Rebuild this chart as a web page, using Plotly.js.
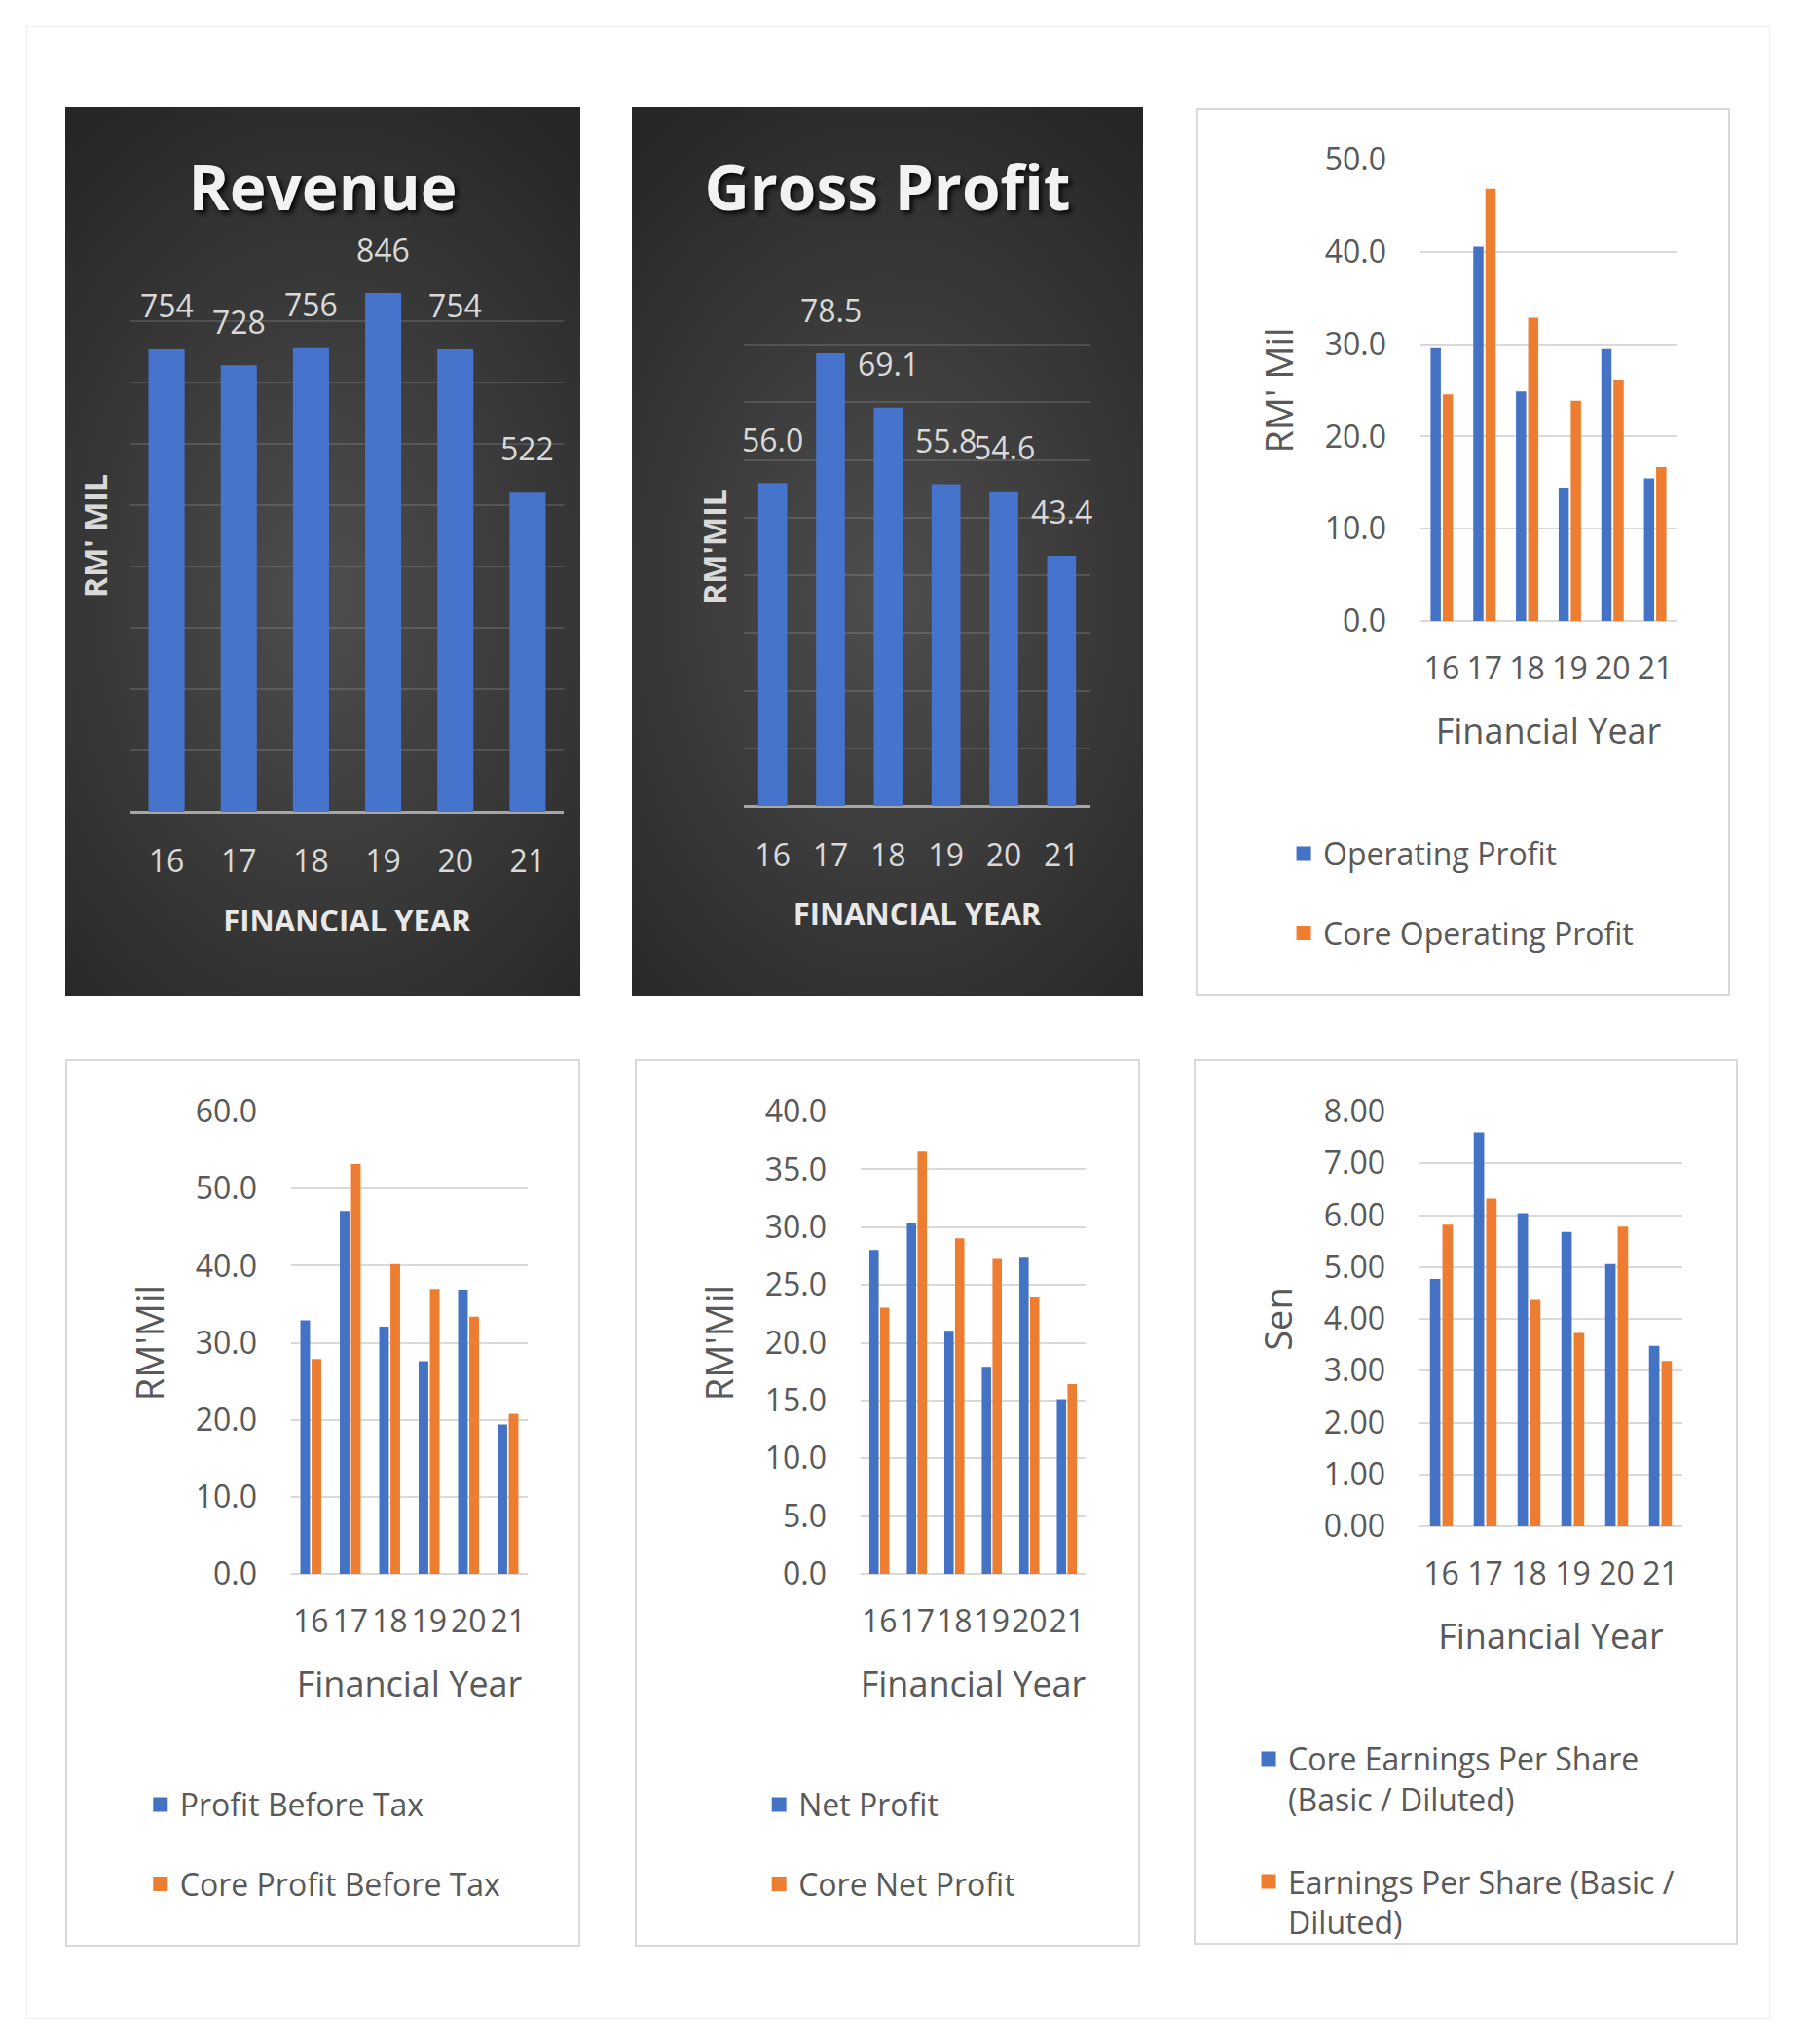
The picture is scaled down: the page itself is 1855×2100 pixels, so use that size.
<!DOCTYPE html>
<html><head><meta charset="utf-8">
<script src="https://cdn.plot.ly/plotly-3.0.1.min.js"></script>
<style>
body{margin:0;background:#fff;width:1855px;height:2100px;position:relative;overflow:hidden;}
.frame{position:absolute;left:27px;top:27px;width:1791px;height:2047px;border:1px solid #eeeeee;box-sizing:border-box;}
.box{position:absolute;box-sizing:border-box;border:2px solid #d9d9d9;background:#fff;}
.dark{position:absolute;background:radial-gradient(ellipse 80% 65% at 50% 55%, #4e4e4e 0%, #3c3c3c 45%, #262626 100%);}
.plot{position:absolute;}
</style></head>
<body>
<div class="frame"></div>
<div class="dark" style="left:67px;top:110px;width:529px;height:913px"></div>
<div class="dark" style="left:649px;top:110px;width:525px;height:913px"></div>
<div class="box" style="left:1228px;top:111px;width:549px;height:912px"></div>
<div class="box" style="left:67px;top:1088px;width:529px;height:912px"></div>
<div class="box" style="left:652px;top:1088px;width:519px;height:912px"></div>
<div class="box" style="left:1226px;top:1088px;width:559px;height:910px"></div>

<div id="rev" class="plot" style="left:67px;top:110px"></div>
<div id="gp" class="plot" style="left:649px;top:110px"></div>
<div id="op" class="plot" style="left:1228px;top:111px"></div>
<div id="pbt" class="plot" style="left:67px;top:1088px"></div>
<div id="np" class="plot" style="left:652px;top:1088px"></div>
<div id="eps" class="plot" style="left:1226px;top:1088px"></div>

<script>
// ---------- data ----------
const years = ['16', '17', '18', '19', '20', '21'];
const revenue = [754, 728, 756, 846, 754, 522];
const grossProfit = [56.0, 78.5, 69.1, 55.8, 54.6, 43.4];
const operatingProfit = [29.4, 40.4, 24.7, 14.3, 29.3, 15.3];
const coreOperatingProfit = [24.4, 46.7, 32.7, 23.7, 26.0, 16.5];
const profitBeforeTax = [32.7, 46.9, 31.9, 27.4, 36.7, 19.2];
const coreProfitBeforeTax = [27.7, 53.0, 40.0, 36.8, 33.2, 20.6];
const netProfit = [27.9, 30.2, 20.9, 17.8, 27.3, 15.0];
const coreNetProfit = [22.9, 36.4, 28.9, 27.2, 23.8, 16.3];
const coreEPS = [4.74, 7.57, 6.01, 5.65, 5.03, 3.45];
const eps = [5.79, 6.29, 4.34, 3.70, 5.75, 3.16];

// ---------- style ----------
const FONT = "'Open Sans', Lato, 'Liberation Sans', sans-serif";
const BLUE = '#4472c4';
const ORANGE = '#ed7d31';
const GREY = '#595959';
const cfg = {displayModeBar: false, staticPlot: true};

function darkChart(id, o) {
  const trace = {
    type: 'bar', x: years, y: o.values,
    marker: {color: '#4673cc', line: {width: 0}},
    hoverinfo: 'skip', showlegend: false
  };
  // value labels: x given as category index (serial number) on the category axis
  const ann = o.values.map((v, i) => ({
    x: i, y: v, xref: 'x', yref: 'y',
    text: v.toFixed(o.dec), showarrow: false,
    yanchor: 'middle', yshift: 45,
    font: {family: FONT, size: 32, color: '#d9d9d9'}
  }));
  const layout = {
    width: o.w, height: o.h,
    margin: {l: o.l, r: o.r, t: o.t, b: o.b, pad: 0, autoexpand: false},
    paper_bgcolor: 'rgba(0,0,0,0)', plot_bgcolor: 'rgba(0,0,0,0)',
    bargap: 0.5,
    font: {family: FONT, color: '#d9d9d9', size: 32},
    title: {
      text: o.title, xref: 'container', yref: 'container',
      x: 0.5, xanchor: 'center', y: 1 - 84 / o.h, yanchor: 'middle',
      font: {family: FONT, size: 64, weight: 700, color: '#f2f2f2',
             shadow: '3px 3px 5px rgba(0,0,0,0.85)'}
    },
    xaxis: {
      type: 'category', range: [-0.5, years.length - 0.5], autorange: false,
      tickangle: 0, showgrid: false, zeroline: false,
      showline: false, ticks: '', ticklabelstandoff: 29,
      tickfont: {family: FONT, size: 32, color: '#d9d9d9'},
      title: {text: 'FINANCIAL YEAR', standoff: o.xst,
              font: {family: FONT, size: 31, weight: 700, color: '#e8e8e8'}}
    },
    yaxis: {
      range: [0, o.ymax], autorange: false, dtick: o.dtick, tick0: 0, showticklabels: false,
      showgrid: true, gridcolor: 'rgba(255,255,255,0.13)', gridwidth: 2,
      zeroline: true, zerolinecolor: '#a6a6a6', zerolinewidth: 3,
      showline: false, ticks: '',
      title: {text: o.ytitle, standoff: o.yst,
              font: {family: FONT, size: 32, weight: 700, color: '#d9d9d9'}}
    },
    annotations: ann
  };
  Plotly.newPlot(id, [trace], layout, cfg);
}

function whiteChart(id, o) {
  const traces = o.series.map((s, k) => {
    const c = k === 0 ? BLUE : ORANGE;
    return {
      type: 'bar', x: years, y: s.values, name: s.name,
      marker: {color: c, line: {width: 3, color: c}},
      legendgroup: 'g' + k, hoverinfo: 'skip'
    };
  });
  const layout = {
    width: o.w, height: o.h,
    margin: {l: o.l, r: o.r, t: o.t, b: o.b, pad: 0, autoexpand: false},
    paper_bgcolor: 'rgba(0,0,0,0)', plot_bgcolor: 'rgba(0,0,0,0)',
    barmode: 'group', bargap: 0.43, bargroupgap: 0.4,
    font: {family: FONT, color: GREY, size: 32},
    xaxis: {
      type: 'category', range: [-0.5, years.length - 0.5], autorange: false,
      tickangle: 0, showgrid: false, zeroline: false,
      showline: false, ticks: '', ticklabelstandoff: 27,
      tickfont: {family: FONT, size: 32, color: GREY},
      title: {text: 'Financial Year', standoff: 32,
              font: {family: FONT, size: 36, color: GREY}}
    },
    yaxis: {
      range: [0, o.ymax], autorange: false, dtick: o.dtick, tick0: 0, tickformat: o.fmt,
      showgrid: true, gridcolor: '#d9d9d9', gridwidth: 2,
      zeroline: true, zerolinecolor: '#d9d9d9', zerolinewidth: 2,
      showline: false, ticks: '', ticklabelstandoff: 34,
      tickfont: {family: FONT, size: 32, color: GREY},
      title: {text: o.ytitle, standoff: 20,
              font: {family: FONT, size: 38, color: GREY}}
    },
    showlegend: true,
    legend: {
      xref: 'paper', yref: 'paper', x: o.lx, y: o.ly,
      xanchor: 'left', yanchor: 'top', orientation: 'v',
      traceorder: 'grouped', tracegroupgap: o.gap, valign: 'top',
      bgcolor: 'rgba(0,0,0,0)', borderwidth: 0,
      font: {family: FONT, size: 32, color: GREY}
    }
  };
  Plotly.newPlot(id, traces, layout, cfg);
}

darkChart('rev', {w: 529, h: 913, l: 67, r: 17, t: 157, b: 189,
  values: revenue, dec: 0, ymax: 900, dtick: 100,
  title: 'Revenue', ytitle: "RM' MIL", yst: 12, xst: 31});
darkChart('gp', {w: 525, h: 913, l: 115, r: 54, t: 185, b: 195,
  values: grossProfit, dec: 1, ymax: 90, dtick: 10,
  title: 'Gross Profit', ytitle: "RM'MIL", yst: 6, xst: 30});

whiteChart('op', {w: 549, h: 912, l: 231, r: 55, t: 53, b: 385,
  ymax: 50, dtick: 10, fmt: '.1f', ytitle: "RM' Mil",
  series: [{values: operatingProfit, name: 'Operating Profit'},
           {values: coreOperatingProfit, name: 'Core Operating Profit'}],
  lx: -0.532, ly: -0.4466, gap: 37});
whiteChart('pbt', {w: 529, h: 912, l: 232, r: 54, t: 54, b: 383,
  ymax: 60, dtick: 10, fmt: '.1f', ytitle: "RM'Mil",
  series: [{values: profitBeforeTax, name: 'Profit Before Tax'},
           {values: coreProfitBeforeTax, name: 'Core Profit Before Tax'}],
  lx: -0.6346, ly: -0.4415, gap: 37});
whiteChart('np', {w: 519, h: 912, l: 232, r: 56, t: 54, b: 383,
  ymax: 40, dtick: 5, fmt: '.1f', ytitle: "RM'Mil",
  series: [{values: netProfit, name: 'Net Profit'},
           {values: coreNetProfit, name: 'Core Net Profit'}],
  lx: -0.4494, ly: -0.4415, gap: 37});
whiteChart('eps', {w: 559, h: 910, l: 232, r: 57, t: 54, b: 430,
  ymax: 8, dtick: 1, fmt: '.2f', ytitle: 'Sen',
  series: [{values: coreEPS, name: 'Core Earnings Per Share<br>(Basic / Diluted)'},
           {values: eps, name: 'Earnings Per Share (Basic /<br>Diluted)'}],
  lx: -0.648, ly: -0.4967, gap: 40});
</script>
</body></html>
